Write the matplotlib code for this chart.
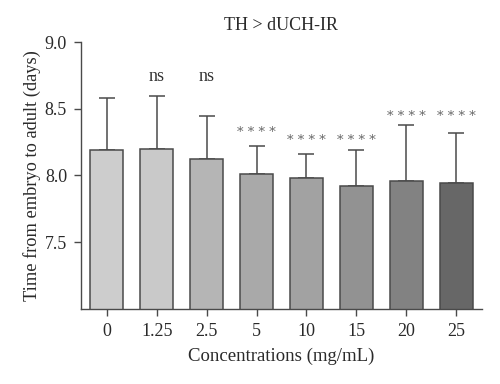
import numpy as np
import matplotlib
matplotlib.use("Agg")
import matplotlib.pyplot as plt

plt.rcParams['font.family'] = ['Liberation Serif', 'DejaVu Serif']

concentrations = ['0', '1.25', '2.5', '5', '10', '15', '20', '25']
mean_days = [8.19, 8.20, 8.12, 8.01, 7.98, 7.92, 7.96, 7.94]
upper_err = [0.39, 0.40, 0.33, 0.21, 0.18, 0.27, 0.42, 0.38]
signif = ['', 'ns', 'ns', '* * * *', '* * * *', '* * * *', '* * * *', '* * * *']
signif_y = [0, 8.74, 8.74, 8.32, 8.26, 8.26, 8.44, 8.44]
bar_colors = ['#cdcdcd', '#c9c9c9', '#b5b5b5', '#a9a9a9', '#a2a2a2',
              '#929292', '#828282', '#676767']

fig, ax = plt.subplots(figsize=(5, 3.84), dpi=100)
fig.subplots_adjust(left=0.162, right=0.964, top=0.89, bottom=0.196)

x = np.arange(len(concentrations))
ax.bar(x, mean_days, width=0.66, color=bar_colors, edgecolor='#4a4a4a',
       linewidth=1.1, zorder=2)
ax.errorbar(x, mean_days, yerr=[np.zeros(len(x)), upper_err], fmt='none',
            ecolor='#4a4a4a', elinewidth=1.1, capsize=6, capthick=1.1, zorder=1)

for xi, lab, ly in zip(x, signif, signif_y):
    if lab == 'ns':
        ax.text(xi, ly, lab, ha='center', va='center', fontsize=13,
                color='#333333')
    elif lab:
        ax.text(xi, ly, lab, ha='center', va='center', fontsize=9.5,
                family='DejaVu Serif', color='#666666')

ax.set_ylim(7.0, 9.0)
ax.set_xlim(-0.52, 7.52)
ax.set_yticks([7.5, 8.0, 8.5, 9.0])
ax.set_yticklabels(['7.5', '8.0', '8.5', '9.0'])
ax.set_xticks(x)
ax.set_xticklabels(concentrations)

for s in ['top', 'right']:
    ax.spines[s].set_visible(False)
for s in ['left', 'bottom']:
    ax.spines[s].set_color('#4a4a4a')
    ax.spines[s].set_linewidth(1.0)
ax.tick_params(colors='#4a4a4a', labelcolor='#2a2a2a', labelsize=13,
               length=5, width=1.0, pad=5)

ax.set_xlabel('Concentrations (mg/mL)', fontsize=13.5, color='#2a2a2a',
              labelpad=6)
ax.set_ylabel('Time from embryo to adult (days)', fontsize=13.2,
              color='#2a2a2a', labelpad=3)
ax.set_title('TH > dUCH-IR', fontsize=13, color='#2a2a2a', pad=9)

plt.savefig('out.png', dpi=100)
